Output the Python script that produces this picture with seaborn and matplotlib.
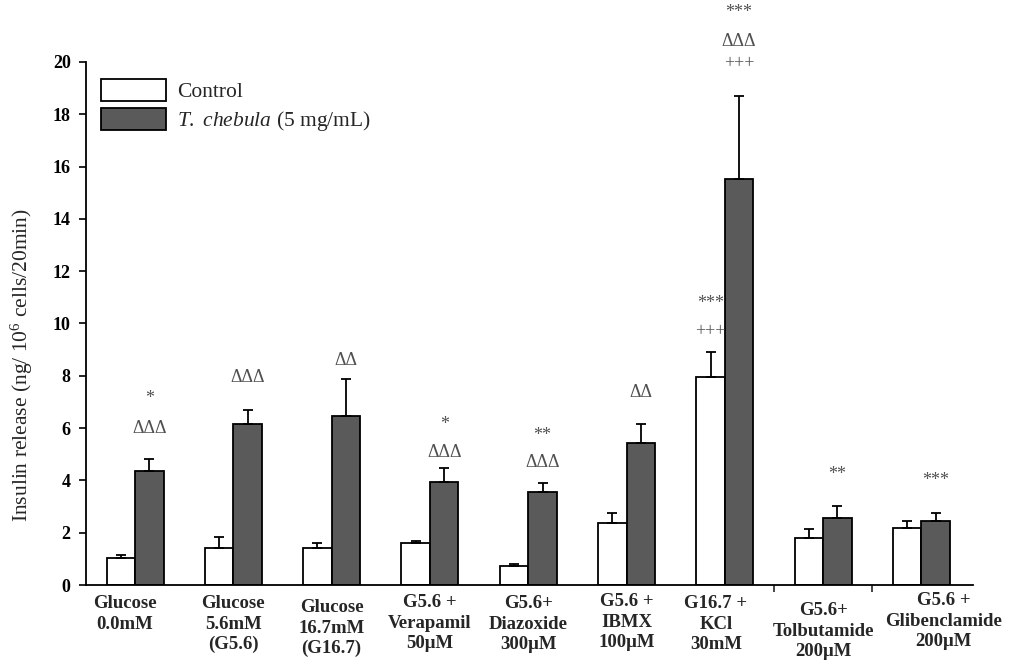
import numpy as np
import pandas as pd
import seaborn as sns
import matplotlib
matplotlib.use("Agg")
import matplotlib.pyplot as plt
from matplotlib.transforms import ScaledTranslation

# ---------------- data ----------------
categories = ["Glucose\n0.0mM", "Glucose\n5.6mM\n(G5.6)", "Glucose\n16.7mM\n(G16.7)",
              "G5.6 +\nVerapamil\n50μM", "G5.6+\nDiazoxide\n300μM", "G5.6 +\nIBMX\n100μM",
              "G16.7 +\nKCl\n30mM", "G5.6+\nTolbutamide\n200μM", "G5.6 +\nGlibenclamide\n200μM"]
series_names = ["Control", "T. chebula"]
control_mean = [1.04, 1.41, 1.41, 1.60, 0.74, 2.36, 7.96, 1.78, 2.17]
control_sem = [0.11, 0.42, 0.19, 0.08, 0.05, 0.38, 0.96, 0.35, 0.27]
chebula_mean = [4.36, 6.16, 6.46, 3.94, 3.56, 5.43, 15.53, 2.56, 2.45]
chebula_sem = [0.46, 0.53, 1.42, 0.53, 0.34, 0.73, 3.18, 0.46, 0.30]
y_ticks = [0, 2, 4, 6, 8, 10, 12, 14, 16, 18, 20]

# significance marks: (group index, series index, text, y value)
ann_group = [0, 0, 1, 2, 3, 3, 4, 4, 5, 6, 6, 6, 6, 6, 7, 8]
ann_series = [1, 1, 1, 1, 1, 1, 1, 1, 1, 0, 0, 1, 1, 1, 1, 1]
ann_text = ["*", "ΔΔΔ", "ΔΔΔ", "ΔΔ", "*", "ΔΔΔ", "**", "ΔΔΔ", "ΔΔ",
            "***", "+++", "***", "ΔΔΔ", "+++", "**", "***"]
ann_y = [7.15, 6.0, 7.92, 8.6, 6.12, 5.05, 5.7, 4.67, 7.38,
         10.75, 9.68, 21.9, 20.8, 19.95, 4.24, 3.98]

# ---------------- style ----------------
sns.set_theme(style="ticks")
plt.rcParams["font.family"] = ["Liberation Serif", "DejaVu Serif"]
plt.rcParams["mathtext.fontset"] = "custom"
plt.rcParams["mathtext.rm"] = "Liberation Serif"
plt.rcParams["mathtext.it"] = "Liberation Serif:italic"

df = pd.DataFrame({
    "group": categories * 2,
    "series": [series_names[0]] * len(categories) + [series_names[1]] * len(categories),
    "value": control_mean + chebula_mean,
})

fig = plt.figure(figsize=(10.11, 6.65), dpi=100)
ax = fig.add_axes([0.085, 0.1203, 0.877, 0.7865])

sns.barplot(data=df, x="group", y="value", hue="series", order=categories,
            hue_order=series_names, palette=["white", "#5a5a5a"], width=0.58,
            edgecolor="black", linewidth=1.3, errorbar=None, ax=ax, saturation=1)

sems = [control_sem, chebula_sem]
bar_containers = list(ax.containers)
centers = [[], []]
for si, cont in enumerate(bar_containers):
    xs = [p.get_x() + p.get_width() / 2 for p in cont.patches]
    hs = [p.get_height() for p in cont.patches]
    centers[si] = xs
    ax.errorbar(xs, hs, yerr=[np.zeros(len(hs)), sems[si]], fmt="none",
                ecolor="black", elinewidth=1.3, capsize=3.5, capthick=1.3, zorder=1)

for g, s, t, y in zip(ann_group, ann_series, ann_text, ann_y):
    ax.text(centers[s][g], y, t, ha="center", va="center", fontsize=13,
            color="#505050", clip_on=False)

ax.set_ylim(0, 20)
ax.set_xlim(-0.5, 8.52)
ax.set_yticks(y_ticks)
ax.set_yticklabels([str(v) for v in y_ticks], fontweight="bold", fontsize=13)
ax.tick_params(axis="y", length=5, width=1.2, direction="out", pad=6, colors="black")

ax.set_xticks(range(len(categories)))
ax.set_xticklabels(categories, fontweight="bold", fontsize=13.5, linespacing=1.25)
ax.tick_params(axis="x", length=0, pad=7.5)
ax.set_xticks([6.5, 7.5], minor=True)
ax.tick_params(axis="x", which="minor", length=5, width=1.2, direction="out")
x_off = [-10, 0, 0, 0, 0, 0, -9, 0, 22]
y_off = [0, 0, 4, -1, 0, -2, 0, 7, -3]
for lab, dx, dy in zip(ax.get_xticklabels(), x_off, y_off):
    lab.set_transform(lab.get_transform() + ScaledTranslation(dx / 100, -dy / 100, fig.dpi_scale_trans))

ax.set_xlabel("")
ax.set_ylabel(r"Insulin release (ng/ 10$^{6}$ cells/20min)", fontsize=15.5)
ax.yaxis.set_label_coords(-0.058, 0.42)

for side in ["top", "right"]:
    ax.spines[side].set_visible(False)
for side in ["left", "bottom"]:
    ax.spines[side].set_linewidth(1.3)
    ax.spines[side].set_color("black")

handles, _ = ax.get_legend_handles_labels()
ax.legend(handles, ["Control", r"$\it{T.\ chebula}$ (5 mg/mL)"], loc="upper left",
          bbox_to_anchor=(-0.002, 1.0), frameon=False, fontsize=15.5,
          handlelength=3.0, handleheight=1.2, handletextpad=0.5, labelspacing=0.25,
          borderpad=0.3)

fig.savefig("out.png", dpi=100)
